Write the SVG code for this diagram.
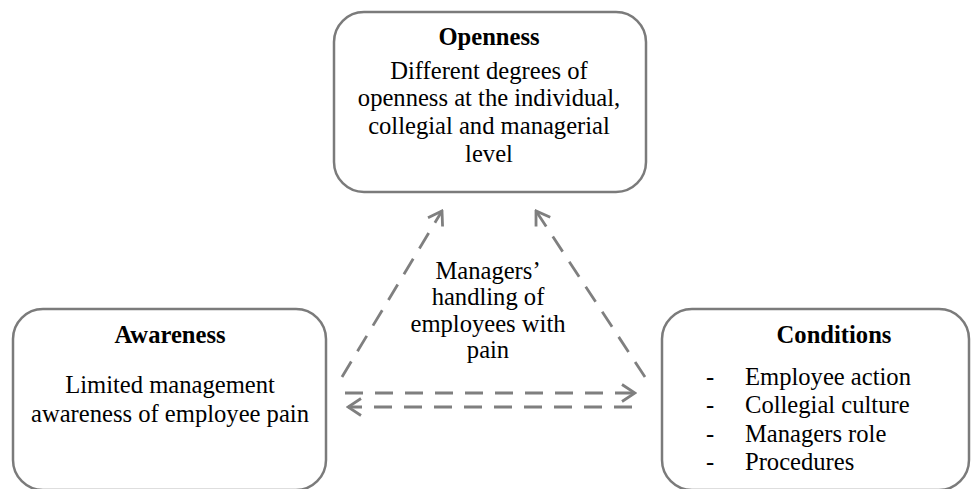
<svg xmlns="http://www.w3.org/2000/svg" width="971" height="489" viewBox="0 0 971 489">
<style>
.box{fill:#fff;stroke:#7b7b7b;stroke-width:2.5}
.t{font-family:'Liberation Serif','Times New Roman',serif;font-size:24.6px;fill:#000}
.b{font-weight:bold}
.c{text-anchor:middle}
.conn{fill:none;stroke:#7f7f7f;stroke-width:2.8;stroke-dasharray:18 12}
</style>
<defs>
<marker id="arr" viewBox="0 0 16 20" refX="14" refY="10" markerWidth="16" markerHeight="20" markerUnits="userSpaceOnUse" orient="auto">
<path d="M1,1.5 L14,10 L1,18.5" fill="none" stroke="#7f7f7f" stroke-width="2.8"/>
</marker>
</defs>
<g id="openness">
<rect class="box" x="334" y="12" width="312" height="180" rx="30"/>
<text class="t b c" x="489" y="45">Openness</text>
<text class="t c" x="489" y="79">Different degrees of</text>
<text class="t c" x="489" y="106">openness at the individual,</text>
<text class="t c" x="489" y="134">collegial and managerial</text>
<text class="t c" x="489" y="162">level</text>
</g>
<g id="awareness">
<rect class="box" x="13" y="309" width="313" height="181" rx="30"/>
<text class="t b c" x="170" y="343">Awareness</text>
<text class="t c" x="170" y="393">Limited management</text>
<text class="t c" x="170" y="422">awareness of employee pain</text>
</g>
<g id="conditions">
<rect class="box" x="662" y="309" width="307" height="181" rx="30"/>
<text class="t b c" x="834" y="343">Conditions</text>
<text class="t" x="706" y="385">-</text>
<text class="t" x="745" y="385">Employee action</text>
<text class="t" x="706" y="413">-</text>
<text class="t" x="745" y="413">Collegial culture</text>
<text class="t" x="706" y="442">-</text>
<text class="t" x="745" y="442">Managers role</text>
<text class="t" x="706" y="470">-</text>
<text class="t" x="745" y="470">Procedures</text>
</g>
<g id="center-label">
<text class="t c" x="488" y="279">Managers’</text>
<text class="t c" x="488" y="305">handling of</text>
<text class="t c" x="488" y="332">employees with</text>
<text class="t c" x="488" y="358">pain</text>
</g>
<g id="connectors">
<line class="conn" x1="342" y1="377" x2="442" y2="211" marker-end="url(#arr)"/>
<line class="conn" x1="645" y1="377" x2="536" y2="211" marker-end="url(#arr)"/>
<line class="conn" x1="345" y1="393" x2="635" y2="393" marker-end="url(#arr)"/>
<line class="conn" x1="632" y1="407" x2="348" y2="407" marker-end="url(#arr)"/>
</g>
</svg>
